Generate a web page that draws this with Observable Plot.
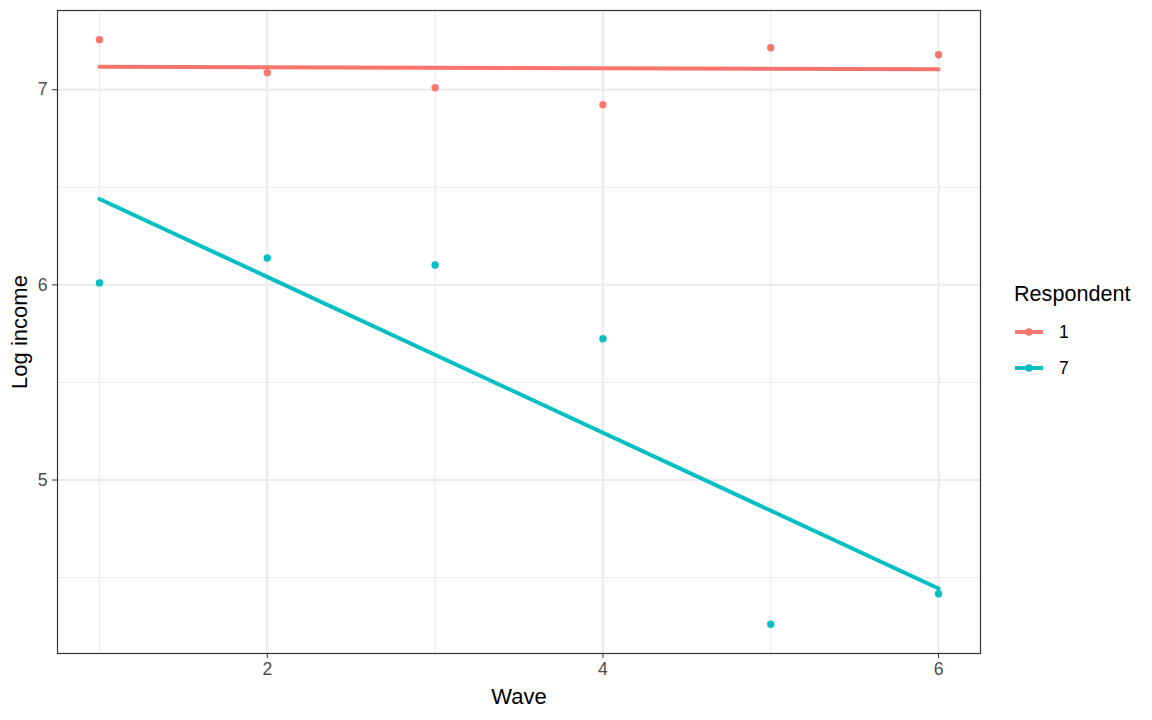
<!DOCTYPE html>
<html>
<head>
<meta charset="utf-8">
<script src="https://cdn.jsdelivr.net/npm/d3@7"></script>
<script src="https://cdn.jsdelivr.net/npm/@observablehq/plot@0.6"></script>
<style>
  body { margin: 0; background: #fff; font-family: "Liberation Sans", Arial, sans-serif; }
  #wrap { position: relative; width: 1152px; height: 720px; }
  #legend { position: absolute; left: 1014px; top: 281px; color: #000; font-size: 17.6px; }
  #legend .title { margin-bottom: 7px; }
  #legend .item { display: flex; align-items: center; height: 36px; }
  #legend svg { margin-right: 15px; }
</style>
</head>
<body>
<div id="wrap"><div id="legend"></div></div>
<script>
const waves = [1, 2, 3, 4, 5, 6];
const respondents = ["1", "7"];
const logIncome1 = [7.256, 7.087, 7.010, 6.923, 7.215, 7.179];
const logIncome7 = [6.010, 6.138, 6.102, 5.724, 4.261, 4.417];
const colors = ["#F8766D", "#00BFC4"];
const xMajor = [2, 4, 6];
const xMinor = [1, 3, 5];
const yMajor = [5, 6, 7];
const yMinor = [4.5, 5.5, 6.5];

const data = [];
waves.forEach((w, i) => {
  data.push({wave: w, y: logIncome1[i], id: respondents[0]});
  data.push({wave: w, y: logIncome7[i], id: respondents[1]});
});

const plot = Plot.plot({
  width: 1152,
  height: 720,
  marginLeft: 57,
  marginTop: 10,
  marginRight: 172,
  marginBottom: 67,
  style: {fontFamily: "Liberation Sans, Arial, sans-serif", background: "#fff"},
  x: {domain: [0.75, 6.25], label: "Wave"},
  y: {domain: [4.111, 7.406], label: "Log income"},
  color: {domain: respondents, range: colors},
  marks: [
    Plot.ruleX(xMinor, {stroke: "#EBEBEB", strokeWidth: 1}),
    Plot.ruleY(yMinor, {stroke: "#EBEBEB", strokeWidth: 1}),
    Plot.ruleX(xMajor, {stroke: "#EBEBEB", strokeWidth: 2}),
    Plot.ruleY(yMajor, {stroke: "#EBEBEB", strokeWidth: 2}),
    Plot.linearRegressionY(data, {x: "wave", y: "y", stroke: "id", ci: 0, strokeWidth: 4}),
    Plot.dot(data, {x: "wave", y: "y", fill: "id", r: 3.7, stroke: "none"}),
    Plot.frame({stroke: "#333333", strokeWidth: 1.2}),
    Plot.axisX(xMajor, {tickSize: 5, tickPadding: 4, stroke: "#333", fill: "#4D4D4D", tickFormat: d3.format("d"),
      label: "Wave", labelAnchor: "center", labelArrow: "none", labelOffset: 50}),
    Plot.axisY(yMajor, {tickSize: 5, tickPadding: 5, stroke: "#333", fill: "#4D4D4D", tickFormat: d3.format("d"),
      label: "Log income", labelAnchor: "center", labelArrow: "none", labelOffset: 46})
  ]
});
plot.querySelectorAll("[aria-label='x-axis tick label'] text, [aria-label='y-axis tick label'] text").forEach(t => {
  t.style.fontSize = "17.6px";
});
plot.querySelectorAll("[aria-label='x-axis label'], [aria-label='y-axis label']").forEach(g => {
  g.querySelectorAll("text").forEach(t => { t.style.fontSize = "22px"; t.style.fill = "#000"; });
});
document.getElementById("wrap").prepend(plot);

const legend = document.getElementById("legend");
const title = document.createElement("div");
title.className = "title";
title.style.fontSize = "21.6px";
title.textContent = "Respondent";
legend.appendChild(title);
respondents.forEach((r, i) => {
  const item = document.createElement("div");
  item.className = "item";
  item.innerHTML = `<svg width="30" height="20"><line x1="1" x2="29" y1="10" y2="10" stroke="${colors[i]}" stroke-width="4"/><circle cx="15" cy="10" r="3.7" fill="${colors[i]}"/></svg><span>${r}</span>`;
  legend.appendChild(item);
});
</script>
</body>
</html>
